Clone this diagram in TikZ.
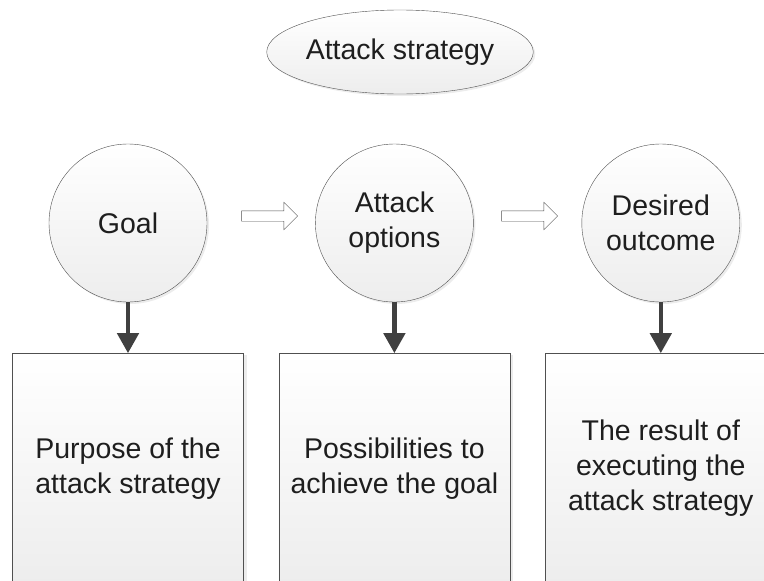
\documentclass[tikz,border=0pt]{standalone}
\usepackage{fontspec}
\setmainfont{Liberation Sans}
\usetikzlibrary{shapes,arrows.meta,positioning,shadows}
\definecolor{Edge}{HTML}{505050}
\definecolor{Ink}{HTML}{1E1E1E}
\definecolor{ArrowGray}{HTML}{404040}
\tikzstyle{Stage} = [draw=Edge, circle, minimum size=158pt, inner sep=0pt, align=center, top color=white, bottom color=black!7, drop shadow={shadow xshift=2pt, shadow yshift=-2pt, opacity=0.15}]
\tikzstyle{Detail} = [draw=Edge, rectangle, minimum width=231pt, minimum height=230pt, inner sep=0pt, align=center, top color=white, bottom color=black!7, drop shadow={shadow xshift=3pt, shadow yshift=-2pt, opacity=0.15}]
\tikzstyle{Title} = [draw=Edge, ellipse, minimum width=258pt, minimum height=84pt, inner sep=0pt, top color=white, bottom color=black!7, drop shadow={shadow xshift=2pt, shadow yshift=-2pt, opacity=0.15}]
\tikzstyle{Flow} = [draw=Edge, fill=white, single arrow, minimum height=56pt, inner xsep=0pt, inner ysep=5pt, single arrow head extend=8.5pt]
\tikzstyle{Down} = [-{Triangle[width=21pt,length=20pt]}, line width=4.5pt, draw=ArrowGray]

\begin{document}
\begin{tikzpicture}[x=1pt, y=-1pt, font=\fontsize{28.5}{35}\selectfont, text=Ink]
    \useasboundingbox (0,0) rectangle (764,581);
    \node[Title]  (strategy)                          at (400,52) {Attack strategy};
    \node[Stage]  (goal)                              at (128,223) {Goal};
    \node[Stage]  (options)  [right=108pt of goal]    {Attack\\options};
    \node[Stage]  (outcome)  [right=108pt of options] {Desired\\outcome};
    \node[Detail] (purpose)  [below=51pt of goal]     {Purpose of the\\attack strategy};
    \node[Detail] (possible) [below=51pt of options]  {Possibilities to\\achieve the goal};
    \node[Detail] (result)   [below=51pt of outcome]  {The result of\\executing the\\attack strategy};
    \node[Flow]   (flow_a)                            at (267,216) {};
    \node[Flow]   (flow_b)                            at (527,216) {};
    \draw[Down] (goal)    -- (purpose);
    \draw[Down] (options) -- (possible);
    \draw[Down] (outcome) -- (result);
  \end{tikzpicture}
\end{document}
